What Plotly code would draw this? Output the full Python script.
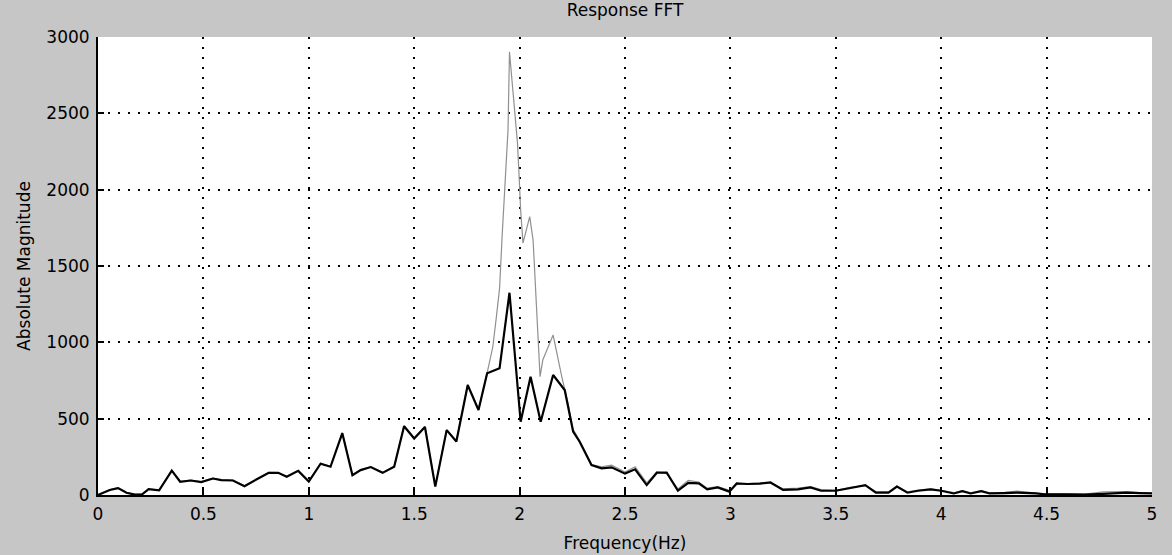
import plotly.graph_objects as go

# Frequency axis (Hz) and FFT magnitudes for the two responses
freq_black = [0.0, 0.03, 0.056, 0.095, 0.135, 0.175, 0.21, 0.24, 0.29, 0.35, 0.39, 0.44, 0.49,
              0.545, 0.585, 0.64, 0.695, 0.76, 0.81, 0.855, 0.895, 0.95, 1.0, 1.056, 1.103,
              1.159, 1.207, 1.246, 1.294, 1.35, 1.405, 1.452, 1.5, 1.551, 1.6, 1.654, 1.7,
              1.754, 1.805, 1.846, 1.905, 1.952, 2.005, 2.052, 2.1, 2.159, 2.214, 2.254,
              2.285, 2.341, 2.389, 2.436, 2.5, 2.548, 2.603, 2.651, 2.698, 2.751, 2.8, 2.85,
              2.89, 2.94, 2.995, 3.03, 3.08, 3.14, 3.19, 3.25, 3.32, 3.38, 3.43, 3.5, 3.57,
              3.64, 3.69, 3.75, 3.79, 3.84, 3.89, 3.95, 4.0, 4.06, 4.1, 4.14, 4.19, 4.23,
              4.3, 4.36, 4.45, 4.49, 4.6, 4.68, 4.77, 4.88, 4.94, 5.0]
mag_black = [0, 15, 33, 45, 15, 2, 5, 38, 30, 160, 87, 95, 85,
             108, 97, 95, 58, 108, 145, 145, 120, 158, 88, 205, 185,
             405, 130, 163, 183, 145, 185, 450, 370, 445, 55, 425, 350,
             720, 557, 797, 830, 1325, 480, 775, 480, 786, 688, 415,
             349, 196, 175, 181, 140, 168, 65, 146, 146, 28, 80, 76,
             37, 50, 22, 76, 72, 75, 82, 33, 37, 50, 28, 28, 44,
             65, 15, 15, 55, 15, 28, 37, 28, 10, 25, 10, 25, 10,
             12, 15, 10, 5, 5, 3, 8, 15, 12, 10]

freq_gray = [0.0, 0.03, 0.056, 0.095, 0.135, 0.175, 0.21, 0.24, 0.29, 0.35, 0.39, 0.44, 0.49,
             0.545, 0.585, 0.64, 0.695, 0.76, 0.81, 0.855, 0.895, 0.95, 1.0, 1.056, 1.103,
             1.159, 1.207, 1.246, 1.294, 1.35, 1.405, 1.452, 1.5, 1.551, 1.6, 1.654, 1.7,
             1.754, 1.805, 1.846, 1.873, 1.89, 1.905, 1.917, 1.93, 1.945, 1.952, 1.96,
             1.976, 1.99, 1.997, 2.005, 2.016, 2.032, 2.048, 2.064, 2.07, 2.08, 2.097,
             2.11, 2.159, 2.2, 2.23, 2.254, 2.285, 2.341, 2.389, 2.436, 2.5, 2.548, 2.603,
             2.651, 2.698, 2.751, 2.8, 2.85, 2.89, 2.94, 2.995, 3.03, 3.08, 3.14, 3.19,
             3.25, 3.32, 3.38, 3.43, 3.5, 3.57, 3.64, 3.69, 3.75, 3.79, 3.84, 3.89, 3.95,
             4.0, 4.06, 4.1, 4.14, 4.19, 4.23, 4.3, 4.36, 4.45, 4.49, 4.6, 4.68, 4.77,
             4.88, 4.94, 5.0]
mag_gray = [0, 18, 35, 48, 18, 4, 8, 40, 32, 162, 90, 97, 88,
            110, 99, 97, 60, 110, 148, 147, 122, 160, 90, 208, 188,
            408, 133, 165, 186, 148, 188, 455, 374, 450, 58, 428, 354,
            724, 560, 800, 971, 1168, 1353, 1692, 2043, 2390, 2903, 2783,
            2567, 2305, 2108, 1866, 1650, 1735, 1823, 1670, 1495, 1168, 775,
            884, 1048, 775, 600, 430, 355, 200, 185, 195, 150, 185, 80,
            150, 140, 40, 95, 85, 45, 55, 30, 70, 75, 78, 80,
            40, 45, 55, 35, 30, 50, 62, 22, 20, 60, 20, 32, 40,
            30, 15, 28, 14, 28, 14, 18, 25, 12, 8, 8, 6, 20,
            22, 15, 12]

x_ticks = [0, 0.5, 1, 1.5, 2, 2.5, 3, 3.5, 4, 4.5, 5]
x_ticktext = ["0", "0.5", "1", "1.5", "2", "2.5", "3", "3.5", "4", "4.5", "5"]
y_ticks = [0, 500, 1000, 1500, 2000, 2500, 3000]
y_ticktext = ["0", "500", "1000", "1500", "2000", "2500", "3000"]

FONT = "DejaVu Sans, Liberation Sans, Arial, sans-serif"

fig = go.Figure()
fig.add_trace(go.Scatter(x=freq_gray, y=mag_gray, mode="lines",
                         line=dict(color="#909090", width=1.2), showlegend=False))
fig.add_trace(go.Scatter(x=freq_black, y=mag_black, mode="lines",
                         line=dict(color="#000000", width=2.2), showlegend=False))

axis_common = dict(
    showline=True, linecolor="black", linewidth=2, mirror=False,
    ticks="inside", ticklen=6, tickwidth=2, tickcolor="black",
    showgrid=True, gridcolor="black", gridwidth=1.6, griddash="2px,8px",
    zeroline=False, automargin=False,
    tickfont=dict(family=FONT, size=17, color="black"),
)

fig.update_xaxes(range=[0, 5], tickvals=x_ticks, ticktext=x_ticktext,
                 ticklabelstandoff=3,
                 title=dict(text="Frequency(Hz)", font=dict(family=FONT, size=17, color="black"),
                            standoff=14),
                 **axis_common)
fig.update_yaxes(range=[0, 3000], tickvals=y_ticks, ticktext=y_ticktext,
                 ticklabelstandoff=3,
                 title=dict(text="Absolute Magnitude", font=dict(family=FONT, size=17, color="black"),
                            standoff=11),
                 **axis_common)

fig.update_layout(
    width=1172, height=555,
    margin=dict(l=98, r=20, t=37, b=60, pad=0),
    paper_bgcolor="#c6c6c6", plot_bgcolor="white",
    title=dict(text="Response FFT", x=0.5, xref="paper", y=0.992, yanchor="top",
               font=dict(family=FONT, size=17, color="black")),
    font=dict(family=FONT, color="black"),
)

fig.write_html("out.html")
